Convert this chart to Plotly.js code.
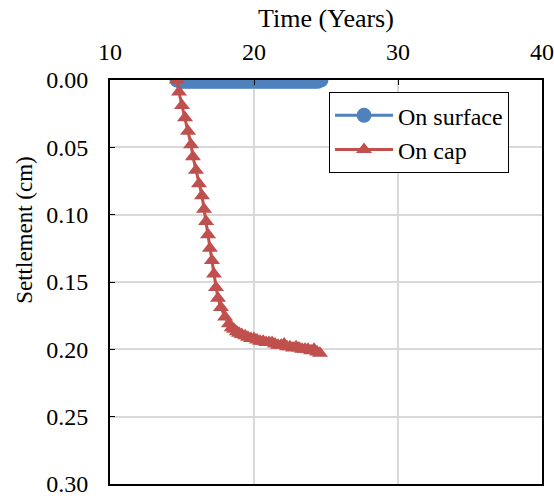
<!DOCTYPE html>
<html>
<head>
<meta charset="utf-8">
<script src="https://cdn.plot.ly/plotly-3.0.1.min.js"></script>
<style>html,body{margin:0;padding:0;background:#fff;}#chart{width:554px;height:499px;}</style>
</head>
<body>
<div id="chart"></div>
<script>
const surfaceTime = [14.65,14.9,15.15,15.4,15.65,15.9,16.15,16.4,16.65,16.9,17.15,17.4,17.65,17.9,18.15,18.4,18.65,18.9,19.15,19.4,19.65,19.9,20.15,20.4,20.65,20.9,21.15,21.4,21.65,21.9,22.15,22.4,22.65,22.9,23.15,23.4,23.65,23.9,24.15,24.4,24.65];
const surfaceSettlement = [0.000,0.001,0.001,0.001,0.001,0.001,0.001,0.001,0.001,0.001,0.001,0.001,0.001,0.001,0.001,0.001,0.001,0.001,0.001,0.001,0.001,0.001,0.001,0.001,0.001,0.001,0.001,0.001,0.001,0.001,0.001,0.001,0.001,0.001,0.001,0.001,0.001,0.001,0.001,0.001,0.000];
const capTime = [14.65,14.79,15.00,15.21,15.42,15.63,15.76,15.97,16.18,16.39,16.53,16.67,16.81,16.94,17.08,17.22,17.36,17.50,17.71,17.99,18.26,18.45,18.61,18.80,18.96,19.15,19.38,19.58,19.79,20.00,20.21,20.42,20.63,20.84,21.04,21.25,21.46,21.67,21.88,22.09,22.29,22.50,22.71,22.92,23.13,23.34,23.54,23.75,23.96,24.17,24.38,24.58];
const capSettlement = [0.000,0.009,0.019,0.028,0.038,0.048,0.057,0.067,0.077,0.086,0.096,0.105,0.115,0.125,0.134,0.144,0.154,0.162,0.169,0.176,0.181,0.184,0.185,0.187,0.188,0.189,0.190,0.191,0.192,0.192,0.193,0.194,0.194,0.195,0.195,0.195,0.196,0.197,0.197,0.196,0.198,0.198,0.199,0.198,0.199,0.200,0.200,0.200,0.201,0.200,0.202,0.203];
const seriesNames = ["On surface","On cap"];
const xTitle = "Time (Years)";
const yTitle = "Settlement (cm)";

const traces = [
  {x: surfaceTime, y: surfaceSettlement, name: seriesNames[0], mode: "lines+markers",
   line: {color: "#4F81BD", width: 3}, marker: {symbol: "circle", size: 15, color: "#4F81BD"}},
  {x: capTime, y: capSettlement, name: seriesNames[1], mode: "lines+markers",
   line: {color: "#C0504D", width: 3}, marker: {symbol: "triangle-up", size: 14, color: "#C0504D"}}
];
const fam = '"Liberation Serif", "Times New Roman", serif';
const tickFont = {family: fam, size: 24, color: "#000"};
const xTitleFont = {family: fam, size: 26, color: "#000"};
const yTitleFont = {family: fam, size: 23, color: "#000"};
const legendFont = {family: fam, size: 24, color: "#000"};
const layout = {
  width: 554, height: 499,
  margin: {l: 110, r: 12, t: 80, b: 15},
  paper_bgcolor: "#fff", plot_bgcolor: "#fff",
  font: tickFont,
  showlegend: true,
  legend: {x: 0.507, y: 0.97, xanchor: "left", yanchor: "top", bordercolor: "#000", borderwidth: 1,
           bgcolor: "#fff", font: legendFont, tracegroupgap: 0, itemwidth: 58},
  xaxis: {side: "top", range: [10, 40], tickvals: [10,20,30,40], tickformat: "d",
          title: {text: xTitle, font: xTitleFont, standoff: 4},
          showgrid: true, gridcolor: "#d9d9d9", gridwidth: 2, zeroline: false,
          showline: true, linecolor: "#000", linewidth: 2, mirror: true,
          ticks: "inside", ticklen: 5, tickcolor: "#000", tickfont: tickFont,
          ticklabelstandoff: 8, ticklabeloverflow: "allow"},
  yaxis: {range: [0.30, 0], tickvals: [0,0.05,0.10,0.15,0.20,0.25,0.30], tickformat: ".2f",
          showgrid: true, gridcolor: "#d9d9d9", gridwidth: 2, zeroline: false,
          showline: true, linecolor: "#000", linewidth: 2, mirror: true,
          ticks: "inside", ticklen: 5, tickcolor: "#000", tickfont: tickFont,
          ticklabelstandoff: 15, ticklabeloverflow: "allow"},
  annotations: [{text: yTitle, xref: "paper", yref: "paper", x: -0.197, y: 0.629,
                 xanchor: "center", yanchor: "middle", textangle: -90, showarrow: false, font: yTitleFont}]
};
Plotly.newPlot("chart", traces, layout, {displayModeBar: false, staticPlot: true});
</script>
</body>
</html>
